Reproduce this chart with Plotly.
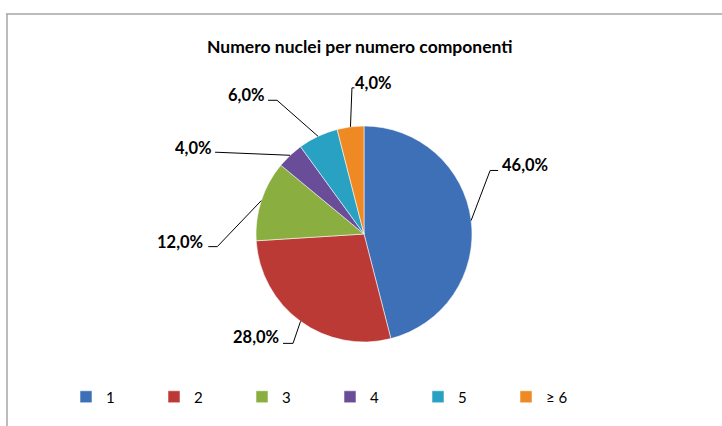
import math
import plotly.graph_objects as go

# ---- data ----
categories = ["1", "2", "3", "4", "5", "\u2265 6"]
percentages = [46.0, 28.0, 12.0, 4.0, 6.0, 4.0]
colors = ["#3d70b6", "#bb3a36", "#8aae40", "#6a4d98", "#29a1c2", "#ee8923"]
title_text = "Numero nuclei per numero componenti"

# ---- layout constants (pixels) ----
W, H = 722, 426
PIE_CX, PIE_CY, PIE_R = 364, 234, 108
FONT = "Lato, 'Open Sans', Arial, sans-serif"

# label leader geometry relative to slice anchor: (elbow dx,dy), (end dx,dy), (text dx,dy, xanchor)
leaders = [
    ((19, -50), (27, -50), (29, -55, "left")),
    ((-7.5, 22), (-17.5, 22), (-20, 16, "right")),
    ((-44, 46), (-53, 46), (-56, 41, "right")),
    ((-73, -3), (-75, -3), (-76, -7, "right")),
    ((-41, -36), (-50, -36), (-51, -41, "right")),
    ((1.5, -39), (4, -39), (3, -44, "left")),
]


def px(x):
    return x / W


def py(y):
    return 1 - y / H


fig = go.Figure()
fig.add_trace(go.Pie(
    labels=categories,
    values=percentages,
    sort=False,
    direction="clockwise",
    rotation=0,
    textinfo="none",
    hoverinfo="label+percent",
    marker=dict(colors=colors, line=dict(color="rgba(255,255,255,0.55)", width=1)),
    domain=dict(x=[px(PIE_CX - PIE_R), px(PIE_CX + PIE_R)],
                y=[py(PIE_CY + PIE_R), py(PIE_CY - PIE_R)]),
))

total = sum(percentages)
annotations = []
shapes = []
cum = 0.0
for v, (elb, end, txt) in zip(percentages, leaders):
    mid = (cum + v / 2) / total
    cum += v
    th = 2 * math.pi * mid
    ax = PIE_CX + PIE_R * math.sin(th)
    ay = PIE_CY - PIE_R * math.cos(th)
    ex, ey = ax + elb[0], ay + elb[1]
    hx, hy = ax + end[0], ay + end[1]
    path = f"M {px(ax)} {py(ay)} L {px(ex)} {py(ey)} L {px(hx)} {py(hy)}"
    shapes.append(dict(type="path", xref="paper", yref="paper", path=path,
                       line=dict(color="#000000", width=1)))
    annotations.append(dict(
        x=px(ax + txt[0]), y=py(ay + txt[1]), xref="paper", yref="paper",
        text=f"<b>{v:.1f}%</b>".replace(".", ","), showarrow=False,
        xanchor=txt[2], yanchor="middle",
        font=dict(family=FONT, size=16.5, color="#000000"),
    ))

# chart frame (top + left edges)
shapes.append(dict(type="line", xref="paper", yref="paper",
                   x0=px(6), x1=1.0, y0=py(14), y1=py(14),
                   line=dict(color="#a6a6a6", width=1.5)))
shapes.append(dict(type="line", xref="paper", yref="paper",
                   x0=px(7), x1=px(7), y0=py(14), y1=0.0,
                   line=dict(color="#a6a6a6", width=1.5)))

annotations.append(dict(
    x=px(360), y=py(46), xref="paper", yref="paper", showarrow=False,
    text=f"<b>{title_text}</b>", xanchor="center", yanchor="middle",
    font=dict(family=FONT, size=17.5, color="#000000"),
))

fig.update_layout(
    width=W, height=H,
    margin=dict(l=0, r=0, t=0, b=0),
    paper_bgcolor="white", plot_bgcolor="white",
    showlegend=True,
    legend=dict(orientation="h", x=px(66), y=py(397), xanchor="left", yanchor="middle",
                entrywidth=43, entrywidthmode="pixels", traceorder="normal",
                font=dict(family=FONT, size=15, color="#000000"),
                bgcolor="rgba(0,0,0,0)"),
    shapes=shapes,
    annotations=annotations,
)

fig.write_html("out.html")
